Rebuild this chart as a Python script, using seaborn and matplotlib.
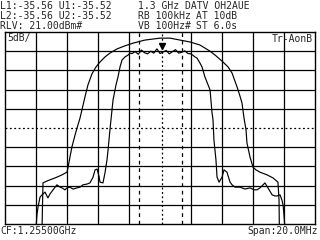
import matplotlib
matplotlib.use("Agg")
import matplotlib.pyplot as plt
import seaborn as sns
import pandas as pd

# ---- data (frequency in MHz, level in dBm) ----
ref_level = 21.0
db_per_div = 5.0
center_mhz = 1255.0
span_mhz = 20.0

inner_left_freq = [1247.00, 1247.06, 1247.13, 1247.26, 1247.39, 1247.58, 1247.77, 1247.90,
                   1248.10, 1248.35, 1248.55, 1248.68, 1248.87, 1249.00, 1249.19, 1249.39,
                   1249.65, 1249.84, 1250.03, 1250.29, 1250.48, 1250.68, 1250.81, 1250.94,
                   1251.06, 1251.13, 1251.32, 1251.45, 1251.58, 1251.65, 1251.77, 1251.97,
                   1252.16, 1252.29, 1252.42, 1252.55, 1252.74, 1252.94, 1253.06]
inner_left_level = [-30, -26.7, -24.6, -22.0, -21.4, -20.7, -22.2, -21.2,
                    -20.1, -18.8, -19.4, -19.6, -20.1, -19.6, -19.4, -19.9,
                    -19.6, -19.4, -18.8, -18.6, -18.3, -16.8, -14.9, -14.7,
                    -16.5, -18.1, -18.3, -15.7, -12.3, -9.7, -4.5, 3.3,
                    7.2, 9.3, 11.9, 13.7, 14.5, 15.0, 15.5]
inner_top_freq = [1253.2, 1253.4, 1253.6, 1253.8, 1254.0, 1254.2, 1254.4, 1254.6, 1254.8, 1255.0,
                  1255.2, 1255.4, 1255.6, 1255.8, 1256.0, 1256.2, 1256.4, 1256.6, 1256.8, 1257.0]
inner_top_level = [15.4, 15.9, 15.2, 16.3, 15.6, 15.3, 16.0, 15.5, 16.6, 15.4,
                   15.8, 16.2, 15.3, 15.9, 16.4, 15.5, 15.7, 16.1, 15.4, 15.3]
inner_right_freq = [1257.26, 1257.39, 1257.58, 1257.71, 1257.90, 1258.23, 1258.35, 1258.42,
                    1258.48, 1258.61, 1258.68, 1258.81, 1259.00, 1259.13, 1259.32, 1259.52,
                    1259.65, 1259.84, 1260.16, 1260.48, 1260.81, 1261.06, 1261.26, 1261.45,
                    1261.65, 1261.77, 1261.97, 1262.23, 1262.42, 1262.55, 1262.74, 1262.87,
                    1262.94, 1263.00, 1263.06]
inner_right_level = [14.5, 14.2, 12.9, 11.9, 9.3, 5.9, 0.2, -1.9,
                     -7.1, -12.3, -16.8, -18.1, -16.8, -14.9, -15.5, -18.1,
                     -18.8, -19.4, -19.4, -19.9, -19.6, -20.1, -20.1, -19.6,
                     -18.8, -18.3, -19.6, -21.4, -21.7, -21.7, -21.4, -22.8,
                     -24.1, -26.7, -30]

outer_freq = [1247.39, 1247.45, 1247.71, 1248.03, 1248.35, 1248.68, 1249.00, 1249.06,
              1249.19, 1249.32, 1249.52, 1249.65, 1249.84, 1250.16, 1250.35, 1250.61,
              1250.87, 1251.13, 1251.45, 1251.77, 1252.23, 1252.74, 1253.26, 1254.03,
              1255.00, 1255.65, 1256.29, 1256.94, 1257.58, 1258.23, 1258.61, 1259.06,
              1259.39, 1259.65, 1259.97, 1260.16, 1260.29, 1260.42, 1260.55, 1260.61,
              1260.81, 1261.00, 1261.19, 1261.45, 1261.90, 1262.29, 1262.61, 1262.68, 1262.70]
outer_level = [-30, -18.3, -17.8, -17.3, -16.8, -16.2, -15.5, -14.4,
               -11.6, -8.9, -5.8, -4.0, -1.4, 4.1, 7.2, 10.1,
               11.9, 13.2, 14.5, 15.5, 16.6, 17.4, 18.1, 18.9,
               19.4, 19.4, 18.9, 18.4, 17.6, 16.0, 14.8, 13.2,
               11.9, 10.3, 6.7, 4.3, 2.5, -1.4, -4.5, -7.9,
               -11.6, -14.2, -14.9, -15.5, -16.2, -17.0, -18.1, -22.8, -30]

marker_freq = [1255.13]
marker_level = [17.4]
channel_edges = [1253.62, 1256.45]
marker_line = 1255.1

header_left = ["L1:-35.56 U1:-35.52", "L2:-35.56 U2:-35.52", "RLV: 21.00dBm#"]
header_mid = ["1.3 GHz DATV OH2AUE", "RB 100kHz", "VB 100Hz#"]
header_right = ["", "AT 10dB", "ST 6.0s"]
footer_left = "CF:1.25500GHz"
footer_right = "Span:20.0MHz"
scale_label = "5dB/"
trace_label = "Tr-AonB"

# ---- plotting ----
sns.set_style("white")
plt.rcParams['font.family'] = ['DejaVu Sans Mono']

W, H = 320, 240
fig = plt.figure(figsize=(W / 100, H / 100), dpi=100)
fig.patch.set_facecolor("white")
ax = fig.add_axes([5 / W, 16 / H, 310 / W, 192 / H])

inner = pd.DataFrame({
    "freq": inner_left_freq + inner_top_freq + inner_right_freq,
    "level": inner_left_level + inner_top_level + inner_right_level,
})
outer = pd.DataFrame({"freq": outer_freq, "level": outer_level})

sns.lineplot(data=outer, x="freq", y="level", sort=False, estimator=None,
             color="black", lw=0.85, ax=ax)
sns.lineplot(data=inner, x="freq", y="level", sort=False, estimator=None,
             color="black", lw=0.85, ax=ax)
ax.plot(marker_freq, marker_level, marker="v", color="black", markersize=4, ls="none")

x0 = center_mhz - span_mhz / 2
x1 = center_mhz + span_mhz / 2
y1 = ref_level
y0 = ref_level - 10 * db_per_div
ax.set_xlim(x0, x1)
ax.set_ylim(y0, y1)

xdiv = [x0 + i * span_mhz / 10 for i in range(1, 10) if i != 5]
ydiv = [y0 + i * db_per_div for i in range(1, 10) if i != 5]
ax.set_xticks(xdiv)
ax.set_yticks(ydiv)
ax.grid(True, color="black", lw=0.9)
ax.tick_params(length=0, labelbottom=False, labelleft=False)
ax.set_xlabel("")
ax.set_ylabel("")
for s in ax.spines.values():
    s.set_color("black")
    s.set_linewidth(1.0)
    s.set_visible(True)

ax.axhline(y0 + 5 * db_per_div, color="black", lw=0.9, ls=(0, (1.5, 2)))
ax.axvline(marker_line, color="black", lw=0.9, ls=(0, (1.5, 2)))
for e in channel_edges:
    ax.axvline(e, color="black", lw=0.9, ls=(0, (3, 3)))

fs = 7
for i, t in enumerate(header_left):
    fig.text(0 / W, 1 - (1 + 10 * i) / H, t, fontsize=fs, va="top", ha="left")
for i, t in enumerate(header_mid):
    fig.text(138 / W, 1 - (1 + 10 * i) / H, t, fontsize=fs, va="top", ha="left")
for i, t in enumerate(header_right):
    if t:
        fig.text(196 / W, 1 - (1 + 10 * i) / H, t, fontsize=fs, va="top", ha="left")

fig.text(7 / W, 1 - 33 / H, scale_label, fontsize=fs, va="top", ha="left")
fig.text(313 / W, 1 - 34 / H, trace_label, fontsize=fs, va="top", ha="right")
fig.text(0 / W, 1 - 226 / H, footer_left, fontsize=fs, va="top", ha="left")
fig.text(318 / W, 1 - 226 / H, footer_right, fontsize=fs, va="top", ha="right")

fig.savefig("out.png", dpi=100, facecolor="white")
